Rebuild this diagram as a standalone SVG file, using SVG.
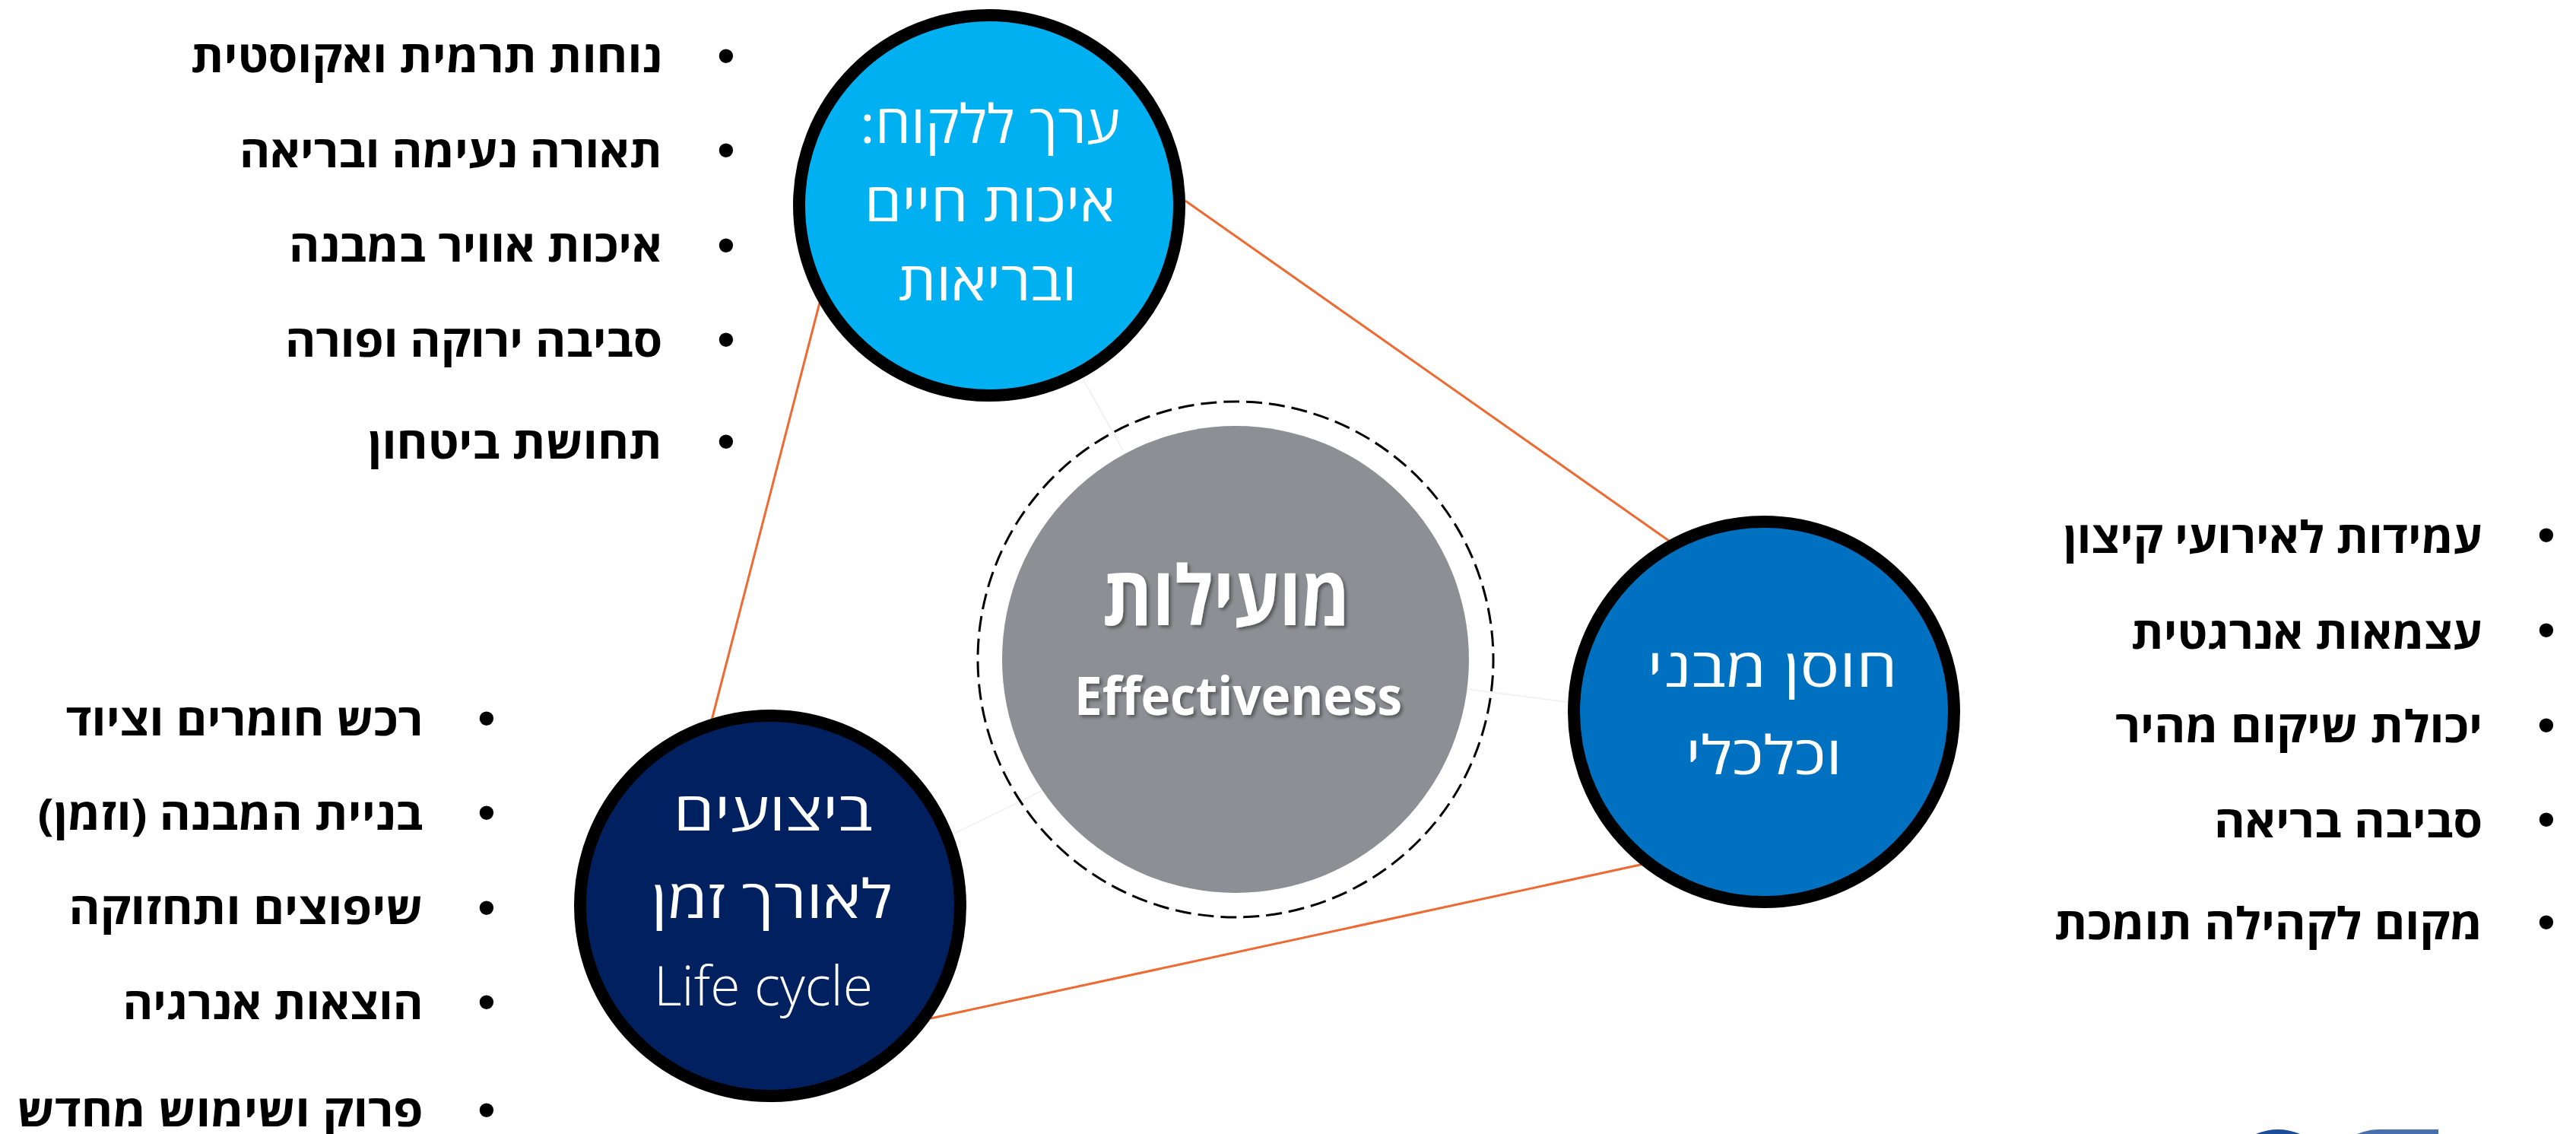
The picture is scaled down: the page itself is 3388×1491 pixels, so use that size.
<svg xmlns="http://www.w3.org/2000/svg" width="3388" height="1491" viewBox="0 0 3388 1491">
<style>
text{font-family:"Open Sans","Liberation Sans",sans-serif}
.li{font-size:58px;font-weight:700;fill:#000;direction:rtl;text-anchor:start}
.bu{font-family:"Liberation Sans",sans-serif;font-size:68px;fill:#000;text-anchor:middle}
.ti{font-size:70px;font-weight:400;fill:#fff;text-anchor:middle;direction:rtl}
.en{font-size:72px;font-weight:300;fill:#fff;text-anchor:middle}
.ce{font-weight:700;fill:#fff;text-anchor:middle;filter:url(#sh)}
.ring{stroke:#000;stroke-width:16}
.or{stroke:#ED6B33;stroke-width:3;fill:none}
.fa{stroke:#F2F2F2;stroke-width:2;fill:none}
</style>
<defs><filter id="sh" x="-10%" y="-20%" width="120%" height="140%"><feDropShadow dx="3" dy="3" stdDeviation="2" flood-color="#000" flood-opacity="0.4"/></filter></defs>
<rect width="3388" height="1491" fill="#fff"/>
<g id="connectors">
<line class="fa" x1="1424" y1="498" x2="1477" y2="592"/>
<line class="fa" x1="1929" y1="906" x2="2062" y2="923"/>
<line class="fa" x1="1370" y1="1040" x2="1255" y2="1096"/>
<line class="or" x1="1559" y1="264" x2="2195" y2="711"/>
<line class="or" x1="1078" y1="398" x2="936" y2="947"/>
<line class="or" x1="1224" y1="1339" x2="2162" y2="1136"/>
</g>
<g id="node-center">
<circle cx="1625" cy="867" r="339" fill="none" stroke="#000" stroke-width="3" stroke-dasharray="21 9" stroke-dashoffset="9"/>
<circle cx="1625" cy="867" r="307" fill="#8E8F94"/>
<text class="ce" x="1613" y="822" font-size="108" direction="rtl" textLength="326" lengthAdjust="spacingAndGlyphs">מועילות</text>
<text class="ce" x="1628.500" y="940" font-size="70" textLength="431" lengthAdjust="spacingAndGlyphs">Effectiveness</text>
</g>
<g id="node-customer">
<circle class="ring" cx="1301" cy="270" r="250" fill="#00B0F0"/>
<text class="ti" x="1302" y="188" textLength="342" lengthAdjust="spacingAndGlyphs">ערך ללקוח:</text>
<text class="ti" x="1302" y="291" textLength="330" lengthAdjust="spacingAndGlyphs">איכות חיים</text>
<text class="ti" x="1299" y="394.500" textLength="235" lengthAdjust="spacingAndGlyphs">ובריאות</text>
</g>
<g id="list-customer">
<text class="bu" x="955" y="96">•</text><text class="li" x="871" y="95" textLength="620" lengthAdjust="spacingAndGlyphs">נוחות תרמית ואקוסטית</text>
<text class="bu" x="955" y="220">•</text><text class="li" x="871" y="220" textLength="556" lengthAdjust="spacingAndGlyphs">תאורה נעימה ובריאה</text>
<text class="bu" x="955" y="345">•</text><text class="li" x="871" y="344" textLength="491" lengthAdjust="spacingAndGlyphs">איכות אוויר במבנה</text>
<text class="bu" x="955" y="469">•</text><text class="li" x="871" y="469" textLength="496" lengthAdjust="spacingAndGlyphs">סביבה ירוקה ופורה</text>
<text class="bu" x="955" y="603">•</text><text class="li" x="871" y="603" textLength="387" lengthAdjust="spacingAndGlyphs">תחושת ביטחון</text>
</g>
<g id="node-resilience">
<circle class="ring" cx="2320" cy="936" r="250" fill="#0070C0"/>
<text class="ti" x="2331" y="902.500" textLength="329" lengthAdjust="spacingAndGlyphs">חוסן מבני</text>
<text class="ti" x="2320" y="1018" textLength="206" lengthAdjust="spacingAndGlyphs">וכלכלי</text>
</g>
<g id="list-resilience">
<text class="bu" x="3349" y="726">•</text><text class="li" x="3265" y="727" textLength="551" lengthAdjust="spacingAndGlyphs">עמידות לאירועי קיצון</text>
<text class="bu" x="3349" y="851">•</text><text class="li" x="3265" y="852.500" textLength="462" lengthAdjust="spacingAndGlyphs">עצמאות אנרגטית</text>
<text class="bu" x="3349" y="976">•</text><text class="li" x="3265" y="976" textLength="483" lengthAdjust="spacingAndGlyphs">יכולת שיקום מהיר</text>
<text class="bu" x="3349" y="1100">•</text><text class="li" x="3265" y="1101" textLength="353" lengthAdjust="spacingAndGlyphs">סביבה בריאה</text>
<text class="bu" x="3349" y="1235">•</text><text class="li" x="3265" y="1235" textLength="563" lengthAdjust="spacingAndGlyphs">מקום לקהילה תומכת</text>
</g>
<g id="node-lifecycle">
<circle class="ring" cx="1013" cy="1191" r="250" fill="#002060"/>
<text class="ti" x="1016.800" y="1091.500" textLength="262" lengthAdjust="spacingAndGlyphs">ביצועים</text>
<text class="ti" x="1015.300" y="1207" textLength="317" lengthAdjust="spacingAndGlyphs">לאורך זמן</text>
<text class="en" x="1004" y="1322" textLength="288" lengthAdjust="spacingAndGlyphs">Life cycle</text>
</g>
<g id="list-lifecycle">
<text class="bu" x="640" y="967">•</text><text class="li" x="556.500" y="966.500" textLength="470" lengthAdjust="spacingAndGlyphs">רכש חומרים וציוד</text>
<text class="bu" x="640" y="1091">•</text><text class="li" x="556.500" y="1091" textLength="507" lengthAdjust="spacingAndGlyphs">בניית המבנה (וזמן)</text>
<text class="bu" x="640" y="1216">•</text><text class="li" x="556.500" y="1215" textLength="466" lengthAdjust="spacingAndGlyphs">שיפוצים ותחזוקה</text>
<text class="bu" x="640" y="1340">•</text><text class="li" x="556.500" y="1340" textLength="395" lengthAdjust="spacingAndGlyphs">הוצאות אנרגיה</text>
<text class="bu" x="640" y="1482">•</text><text class="li" x="556.500" y="1481" textLength="534" lengthAdjust="spacingAndGlyphs">פרוק ושימוש מחדש</text>
</g>
<g id="logo-fragment">
<circle cx="2996" cy="1558" r="73" fill="#1B4D9B"/>
<path d="M3207 1485H3128C3118 1485 3108 1488 3100 1491H3207Z" fill="#4A6FAF"/>
</g>
</svg>
